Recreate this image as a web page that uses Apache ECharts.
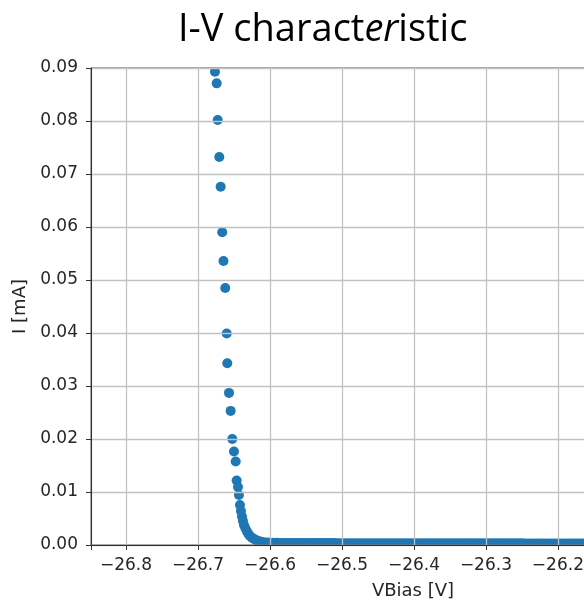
<!DOCTYPE html>
<html>
<head>
<meta charset="utf-8">
<title>I-V characteristic</title>
<script src="https://cdn.jsdelivr.net/npm/echarts@6/dist/echarts.min.js"></script>
<style>
  html, body { margin: 0; padding: 0; background: #ffffff; }
  #chart { width: 584px; height: 604px; }
</style>
</head>
<body>
<div id="chart"></div>
<script>
// Bias sweep: steep breakdown knee, then the flat region
const vbias = [
  -26.6764, -26.6740, -26.6726, -26.6704, -26.6685, -26.6663, -26.6646, -26.6621,
  -26.6601, -26.6593, -26.6569, -26.6546, -26.6524, -26.6500, -26.6476, -26.6463,
  -26.6444, -26.6431, -26.6417, -26.6403, -26.6389, -26.6375, -26.6361, -26.6340,
  -26.6319, -26.6299, -26.6278, -26.6250, -26.6222, -26.6194, -26.6160, -26.6125,
  -26.6083, -26.6028,
  -26.595, -26.590, -26.585, -26.580, -26.575, -26.570, -26.565, -26.560, -26.555, -26.550,
  -26.545, -26.540, -26.535, -26.530, -26.525, -26.520, -26.515, -26.510, -26.505, -26.500,
  -26.495, -26.490, -26.485, -26.480, -26.475, -26.470, -26.465, -26.460, -26.455, -26.450,
  -26.445, -26.440, -26.435, -26.430, -26.425, -26.420, -26.415, -26.410, -26.405, -26.400,
  -26.395, -26.390, -26.385, -26.380, -26.375, -26.370, -26.365, -26.360, -26.355, -26.350,
  -26.345, -26.340, -26.335, -26.330, -26.325, -26.320, -26.315, -26.310, -26.305, -26.300,
  -26.295, -26.290, -26.285, -26.280, -26.275, -26.270, -26.265, -26.260, -26.255, -26.250,
  -26.245, -26.240, -26.235, -26.230, -26.225, -26.220, -26.215, -26.210, -26.205, -26.200,
  -26.195, -26.190, -26.185, -26.180, -26.175, -26.170, -26.165, -26.160, -26.155, -26.150
];

// Current in mA, one value per bias point
const current = [
  0.0893, 0.0871, 0.0802, 0.0732, 0.0676, 0.0590, 0.0536, 0.0485,
  0.0399, 0.0343, 0.0287, 0.0253, 0.0200, 0.01764, 0.01575, 0.01217,
  0.01094, 0.00943, 0.00755, 0.00642, 0.00538, 0.00453, 0.00377, 0.00311,
  0.00255, 0.00208, 0.00170, 0.00136, 0.00113, 0.00094, 0.00075, 0.00062,
  0.00053, 0.00045,
  0.00042, 0.00041, 0.00040, 0.00040, 0.00039, 0.00039, 0.00038, 0.00038, 0.00038, 0.00037,
  0.00037, 0.00037, 0.00037, 0.00036, 0.00036, 0.00036, 0.00036, 0.00036, 0.00035, 0.00035,
  0.00035, 0.00035, 0.00035, 0.00035, 0.00035, 0.00034, 0.00034, 0.00034, 0.00034, 0.00034,
  0.00034, 0.00034, 0.00034, 0.00034, 0.00033, 0.00033, 0.00033, 0.00033, 0.00033, 0.00033,
  0.00033, 0.00033, 0.00033, 0.00033, 0.00033, 0.00032, 0.00032, 0.00032, 0.00032, 0.00032,
  0.00032, 0.00032, 0.00032, 0.00032, 0.00032, 0.00032, 0.00032, 0.00031, 0.00031, 0.00031,
  0.00031, 0.00031, 0.00031, 0.00031, 0.00031, 0.00031, 0.00031, 0.00031, 0.00031, 0.00031,
  0.00030, 0.00030, 0.00030, 0.00030, 0.00030, 0.00030, 0.00030, 0.00030, 0.00030, 0.00030,
  0.00030, 0.00030, 0.00030, 0.00030, 0.00030, 0.00030, 0.00030, 0.00030, 0.00030, 0.00030
];

// Axis ranges and tick labels
const xRange = [-26.8486, -25.954];
const xTickLabels = ['-26.8', '-26.7', '-26.6', '-26.5', '-26.4', '-26.3', '-26.2', '-26.1', '-26.0'];
const yRange = [0, 0.09];
const yTickLabels = ['0.00', '0.01', '0.02', '0.03', '0.04', '0.05', '0.06', '0.07', '0.08', '0.09'];

const points = vbias.map((v, i) => [v, current[i]]);
const tickFont = 'DejaVu Sans';
const inkColor = '#262626';
const gridColor = '#c2c2c2';

const chart = echarts.init(document.getElementById('chart'), null, { renderer: 'canvas' });

chart.setOption({
  backgroundColor: '#ffffff',
  animation: false,
  title: {
    text: 'I-V charact{it|er}istic',
    left: 178,
    top: 11,
    padding: 0,
    textStyle: {
      fontFamily: 'Open Sans',
      fontSize: 38,
      fontWeight: 'normal',
      color: '#000000',
      rich: {
        it: { fontFamily: 'Open Sans', fontSize: 38, fontStyle: 'italic', color: '#000000' }
      }
    }
  },
  grid: {
    left: 91,
    right: -151,
    top: 68,
    bottom: 59,
    show: true,
    z: 4,
    borderColor: '#444444',
    borderWidth: 1,
    backgroundColor: 'transparent',
    outerBoundsMode: 'none'
  },
  xAxis: {
    type: 'value',
    z: 5,
    min: xRange[0],
    max: xRange[1],
    minInterval: 0.1,
    maxInterval: 0.1,
    name: 'VBias [V]',
    nameLocation: 'middle',
    nameGap: 37,
    nameTextStyle: { fontFamily: tickFont, fontSize: 18, color: inkColor },
    axisLine: { show: true, onZero: false, lineStyle: { color: '#333333', width: 1 } },
    axisTick: { show: true, inside: false, length: 5, lineStyle: { color: '#333333' } },
    axisLabel: {
      margin: 12,
      fontFamily: tickFont,
      fontSize: 17,
      color: inkColor,
      showMinLabel: true,
      showMaxLabel: true,
      formatter: function (val) {
        const s = val.toFixed(1);
        if (Math.abs(val - Number(s)) > 1e-6 || xTickLabels.indexOf(s) < 0) return '';
        return s.replace('-', '\u2212');
      }
    },
    splitLine: { show: true, lineStyle: { color: gridColor, width: 1.3 } }
  },
  yAxis: {
    type: 'value',
    z: 5,
    min: yRange[0],
    max: yRange[1],
    interval: 0.01,
    name: 'I [mA]',
    nameLocation: 'middle',
    nameGap: 58,
    nameTextStyle: { fontFamily: tickFont, fontSize: 18, color: inkColor },
    axisLine: { show: true, lineStyle: { color: '#333333', width: 1 } },
    axisTick: { show: true, inside: false, length: 5, lineStyle: { color: '#333333' } },
    axisLabel: {
      margin: 13,
      fontFamily: tickFont,
      fontSize: 17,
      color: inkColor,
      formatter: function (val) {
        const i = Math.round(val / 0.01);
        return yTickLabels[i] !== undefined ? yTickLabels[i] : '';
      }
    },
    splitLine: { show: true, lineStyle: { color: gridColor, width: 1.3 } }
  },
  series: [{
    type: 'scatter',
    data: points,
    symbol: 'circle',
    symbolSize: 10,
    itemStyle: { color: '#1f77b4', opacity: 1 },
    clip: true,
    z: 2
  }]
});

// Trim markers at the plot frame: white bands just outside the top and bottom edges,
// placed from the axis scale so the axes and frame stay drawn on top.
const topLeft = chart.convertToPixel({ gridIndex: 0 }, [xRange[0], yRange[1]]);
const bottomLeft = chart.convertToPixel({ gridIndex: 0 }, [xRange[0], yRange[0]]);
chart.setOption({
  graphic: [
    {
      type: 'rect', z: 3, silent: true,
      shape: { x: topLeft[0] + 1, y: topLeft[1] - 8, width: 600, height: 8 },
      style: { fill: '#ffffff' }
    },
    {
      type: 'rect', z: 3, silent: true,
      shape: { x: bottomLeft[0] + 1, y: bottomLeft[1], width: 600, height: 8 },
      style: { fill: '#ffffff' }
    }
  ]
});
</script>
</body>
</html>
